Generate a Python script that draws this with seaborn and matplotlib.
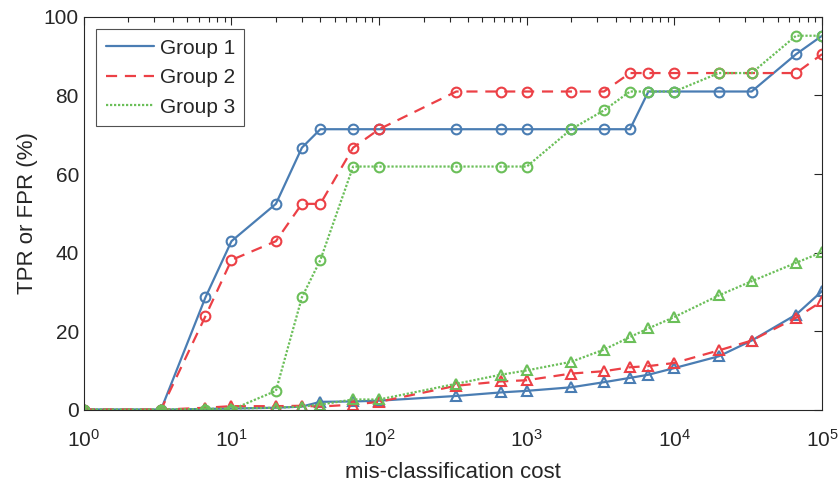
import numpy as np
import pandas as pd
import matplotlib
matplotlib.use("Agg")
import matplotlib.pyplot as plt
import seaborn as sns
from matplotlib.lines import Line2D
from matplotlib.ticker import LogLocator, NullFormatter

# mis-classification cost (shared x values)
cost = [1, 3.333, 6.667, 10, 20, 30, 40, 66.67, 100, 333.3, 666.7, 1000,
        2000, 3333, 5000, 6667, 10000, 20000, 33333, 66667, 100000]

# TPR (%) - circles
tpr_g1 = [0, 0, 28.6, 42.9, 52.4, 66.7, 71.4, 71.4, 71.4, 71.4, 71.4, 71.4,
          71.4, 71.4, 71.4, 81.0, 81.0, 81.0, 81.0, 90.5, 95.2]
tpr_g2 = [0, 0, 23.8, 38.1, 42.9, 52.4, 52.4, 66.7, 71.4, 81.0, 81.0, 81.0,
          81.0, 81.0, 85.7, 85.7, 85.7, 85.7, 85.7, 85.7, 90.5]
tpr_g3 = [0, 0, 0, 0, 4.8, 28.6, 38.1, 61.9, 61.9, 61.9, 61.9, 61.9,
          71.4, 76.2, 81.0, 81.0, 81.0, 85.7, 85.7, 95.2, 95.2]

# FPR (%) - triangles
fpr_g1 = [0, 0, 0.2, 0.3, 0.5, 0.8, 2.0, 2.1, 2.3, 3.5, 4.4, 4.8,
          5.7, 7.0, 8.1, 8.9, 10.6, 13.6, 17.6, 24.2, 30.2]
fpr_g2 = [0, 0, 0.5, 0.9, 0.9, 1.0, 0.8, 1.3, 2.0, 6.1, 7.2, 7.5,
          9.2, 9.8, 10.8, 11.1, 11.9, 15.1, 17.6, 23.4, 27.6]
fpr_g3 = [0, 0, 0.2, 0.3, 0.5, 0.8, 1.3, 2.6, 2.6, 6.6, 8.9, 10.0,
          12.2, 15.3, 18.5, 20.7, 23.6, 29.1, 32.7, 37.4, 40.1]

groups = ["Group 1", "Group 2", "Group 3"]
colors = ["#4a7db3", "#ec4046", "#6bbf59"]
styles = ["-", (0, (5, 3.5)), (0, (1, 0.8))]

sns.set_style("white")
plt.rcParams["font.family"] = ["Liberation Sans", "DejaVu Sans"]

fig, ax = plt.subplots(figsize=(8.38, 4.82), dpi=100)
fig.subplots_adjust(left=0.1, right=0.981, top=0.965, bottom=0.15)

tprs = [tpr_g1, tpr_g2, tpr_g3]
fprs = [fpr_g1, fpr_g2, fpr_g3]
for name, col, ls, tpr, fpr in zip(groups, colors, styles, tprs, fprs):
    df = pd.DataFrame({"cost": cost, "tpr": tpr, "fpr": fpr})
    sns.lineplot(data=df, x="cost", y="tpr", ax=ax, color=col, linestyle=ls,
                 linewidth=1.6, marker="o", markersize=7, markerfacecolor="none",
                 markeredgecolor=col, markeredgewidth=1.5, estimator=None)
    sns.lineplot(data=df, x="cost", y="fpr", ax=ax, color=col, linestyle=ls,
                 linewidth=1.6, marker="^", markersize=7, markerfacecolor="none",
                 markeredgecolor=col, markeredgewidth=1.5, estimator=None)

ax.set_xscale("log")
ax.set_xlim(1, 1e5)
ax.set_ylim(0, 100)
ax.set_yticks([0, 20, 40, 60, 80, 100])
ax.xaxis.set_major_locator(LogLocator(base=10, numticks=10))
ax.xaxis.set_minor_locator(LogLocator(base=10, subs=np.arange(2, 10), numticks=100))
ax.xaxis.set_minor_formatter(NullFormatter())
ax.tick_params(axis="both", which="both", direction="in", top=True, right=True,
               labelsize=15, colors="#262626")
ax.tick_params(which="major", length=6, width=0.8)
ax.tick_params(which="minor", length=3.5, width=0.8)
ax.tick_params(axis="x", pad=14)
for s in ax.spines.values():
    s.set_color("#262626")
    s.set_linewidth(0.8)

ax.set_xlabel("mis-classification cost", fontsize=16, color="#262626", labelpad=8)
ax.set_ylabel("TPR or FPR (%)", fontsize=16, color="#262626")

handles = [Line2D([0], [0], color=c, linestyle=ls, linewidth=1.6)
           for c, ls in zip(colors, styles)]
leg = ax.legend(handles, groups, loc="upper left", fontsize=15, frameon=True,
                fancybox=False, edgecolor="#262626", handlelength=2.3,
                handletextpad=0.3, borderaxespad=0.6, labelspacing=0.5,
                borderpad=0.45)
leg.get_frame().set_linewidth(0.8)

fig.savefig("out.png", dpi=100)
